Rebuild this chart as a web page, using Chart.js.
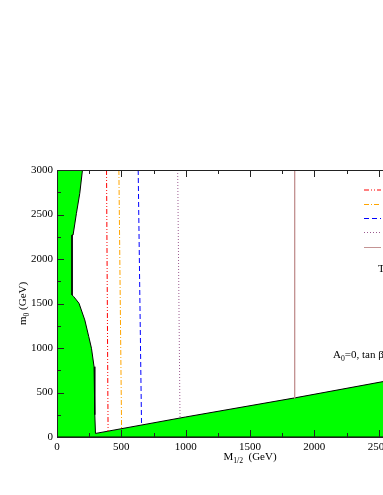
<!DOCTYPE html>
<html>
<head>
<meta charset="utf-8">
<script src="https://cdn.jsdelivr.net/npm/chart.js@4/dist/chart.umd.min.js"></script>
<style>
  html, body { margin: 0; padding: 0; background: #fff; overflow: hidden; }
  #wrap { width: 383px; height: 495px; overflow: hidden; }
</style>
</head>
<body>
<div id="wrap"><canvas id="c" width="460" height="495"></canvas></div>
<script>
// Excluded region (green), boundary points: M1/2 and m0 in GeV
const regionM  = [0, 198, 177, 151, 125, 117, 117, 128, 145, 171, 216, 247, 268, 288, 294, 294, 299, 1000, 1850, 3000, 3000, 0];
const regionM0 = [3000, 3000, 2738, 2513, 2270, 2270, 1596, 1580, 1550, 1502, 1315, 1127, 997, 790, 770, 250, 40, 225, 440, 747, 0, 0];

// Contour lines: M1/2 at the top (m0 = 3000) and where they meet the boundary
const lineTopM  = [385, 481, 631, 938, 1847];
const lineBotM  = [397, 502, 657, 956, 1847];
const lineBotM0 = [65, 93, 133, 212, 435];
const lineTopM0 = 3000;

// Axis ticks
const xTicks = [0, 500, 1000, 1500, 2000, 2500, 3000];
const yTicks = [0, 500, 1000, 1500, 2000, 2500, 3000];

// Styles for the contour lines
const lineColors = ['#ff0000', '#ffa500', '#0000ff', '#9b5a8f', '#c49494'];
const lineDashes = [[5, 2, 1, 2, 1, 2], [5, 2, 1, 2], [5, 3], [1, 2], []];

const SERIF = "'Liberation Serif', 'DejaVu Serif', serif";

const datasets = lineTopM.map((m, i) => ({
    data: [{ x: m, y: lineTopM0 }, { x: lineBotM[i], y: lineBotM0[i] }],
    showLine: true,
    borderColor: lineColors[i],
    borderWidth: 1,
    borderDash: lineDashes[i],
    pointRadius: 0,
    fill: false,
    order: 1
}));

datasets.push({
    data: regionM.map((m, i) => ({ x: m, y: regionM0[i] })),
    showLine: true,
    borderColor: '#000',
    borderWidth: 1,
    backgroundColor: '#00ff00',
    pointRadius: 0,
    fill: 'shape',
    tension: 0,
    order: 2
});

// subscript-aware text helper: parts = [[text, isSub], ...]
function drawParts(ctx, parts, x, y, size) {
    let cx = x;
    parts.forEach(([t, sub]) => {
        ctx.font = (sub ? size * 0.7 : size) + 'px ' + SERIF;
        ctx.fillText(t, cx, sub ? y + size * 0.25 : y);
        cx += ctx.measureText(t).width;
    });
}
function partsWidth(ctx, parts, size) {
    let w = 0;
    parts.forEach(([t, sub]) => {
        ctx.font = (sub ? size * 0.7 : size) + 'px ' + SERIF;
        w += ctx.measureText(t).width;
    });
    return w;
}

const decor = {
    id: 'decor',
    afterDraw(chart) {
        const ctx = chart.ctx;
        const xs = chart.scales.x, ys = chart.scales.y;
        const a = chart.chartArea;
        ctx.save();
        // frame
        ctx.strokeStyle = '#222';
        ctx.lineWidth = 1;
        ctx.setLineDash([]);
        ctx.strokeRect(Math.round(a.left) + 0.5, Math.round(a.top) + 0.5,
            Math.round(a.right - a.left), Math.round(a.bottom - a.top));
        // inward ticks
        ctx.beginPath();
        for (let v = 0; v <= 3000; v += 250) {
            const len = v % 500 === 0 ? 7 : 4;
            const px = Math.round(xs.getPixelForValue(v)) + 0.5;
            ctx.moveTo(px, a.bottom); ctx.lineTo(px, a.bottom - len);
            ctx.moveTo(px, a.top); ctx.lineTo(px, a.top + len);
            const py = Math.round(ys.getPixelForValue(v)) + 0.5;
            ctx.moveTo(a.left, py); ctx.lineTo(a.left + len, py);
            ctx.moveTo(a.right, py); ctx.lineTo(a.right - len, py);
        }
        ctx.stroke();

        // legend samples (labels fall outside the visible page)
        const legY = [190, 204.5, 218.5, 232.5, 247.5];
        lineColors.forEach((c, i) => {
            ctx.strokeStyle = c;
            ctx.setLineDash(lineDashes[i]);
            ctx.beginPath();
            ctx.moveTo(364, legY[i]); ctx.lineTo(381, legY[i]);
            ctx.stroke();
        });
        ctx.setLineDash([]);

        ctx.fillStyle = '#000';
        ctx.textBaseline = 'alphabetic';
        ctx.textAlign = 'left';
        const fs = 11;
        // x title
        const xt = [['M', false], ['1/2', true], ['  (GeV)', false]];
        const xw = partsWidth(ctx, xt, fs);
        drawParts(ctx, xt, (a.left + a.right) / 2 - xw / 2, 460, fs);
        // y title
        const yt = [['m', false], ['0', true], [' (GeV)', false]];
        const yw = partsWidth(ctx, yt, fs);
        ctx.save();
        ctx.translate(26, (a.top + a.bottom) / 2);
        ctx.rotate(-Math.PI / 2);
        drawParts(ctx, yt, -yw / 2, 0, fs);
        ctx.restore();
        // annotations
        drawParts(ctx, [['A', false], ['0', true], ['=0, tan \u03b2', false]], 333, 358, fs);
        drawParts(ctx, [['T', false]], 378, 272, fs);
        ctx.restore();
    }
};

new Chart(document.getElementById('c'), {
    type: 'scatter',
    data: { datasets },
    options: {
        responsive: false,
        animation: false,
        layout: { padding: { left: 0, right: 17, top: 170, bottom: 0 } },
        plugins: { legend: { display: false }, tooltip: { enabled: false } },
        scales: {
            x: {
                type: 'linear', min: 0, max: 3000,
                afterBuildTicks: s => { s.ticks = xTicks.map(v => ({ value: v })); },
                afterFit: s => { s.height = 58; },
                grid: { display: false, drawTicks: false },
                border: { display: false },
                ticks: { color: '#000', padding: 4, maxRotation: 0, callback: v => String(v), font: { family: SERIF, size: 11 } }
            },
            y: {
                type: 'linear', min: 0, max: 3000,
                afterBuildTicks: s => { s.ticks = yTicks.map(v => ({ value: v })); },
                afterFit: s => { s.width = 57; },
                grid: { display: false, drawTicks: false },
                border: { display: false },
                ticks: { color: '#000', padding: 4, callback: v => String(v), font: { family: SERIF, size: 11 } }
            }
        }
    },
    plugins: [decor]
});
</script>
</body>
</html>
